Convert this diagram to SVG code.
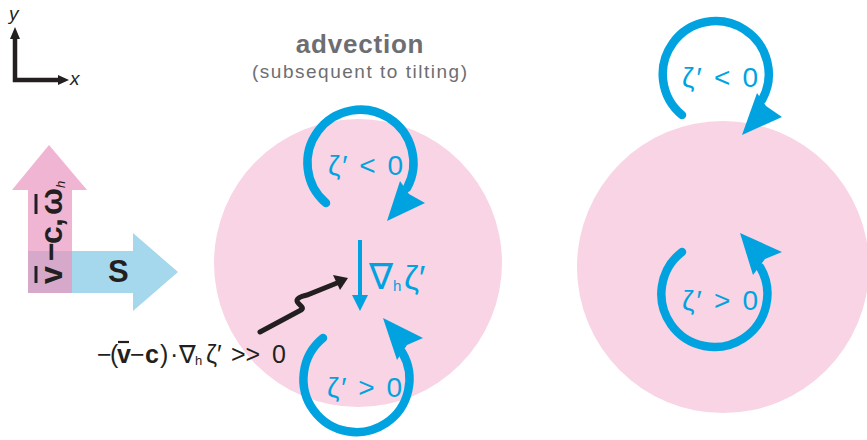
<svg xmlns="http://www.w3.org/2000/svg" width="867" height="440" viewBox="0 0 867 440">
<style>
.disk{fill:#f8d4e5}
.ring{fill:none;stroke:#00a3df;stroke-width:8.5;stroke-linecap:round}
.head{fill:#00a3df}
.bt{fill:#00a3df;font-family:"Liberation Sans","DejaVu Sans",sans-serif;font-size:28px}
.blk{fill:#231f20;font-family:"Liberation Sans","DejaVu Sans",sans-serif}
.ax{stroke:#231f20;stroke-width:4.5;fill:none}
.axh{fill:#231f20}
.grey{fill:#6d6e71;font-family:"Liberation Sans","DejaVu Sans",sans-serif}
</style>
<rect width="867" height="440" fill="#ffffff"/>

<g id="axes">
  <path class="ax" d="M15,36 V80 H60"/>
  <polygon class="axh" points="15,27 20,39 10,39"/>
  <polygon class="axh" points="69,80 58,85 58,75"/>
  <text class="blk" x="9" y="20" font-size="19" font-style="italic">y</text>
  <text class="blk" x="70" y="85" font-size="19" font-style="italic">x</text>
</g>

<g id="vectors">
  <polygon fill="#a5d8ec" points="28,251 133,251 133,233 178,272 133,311 133,293 28,293"/>
  <polygon fill="#f0b5d3" points="28,293 72,293 72,190 87,190 49,145 12,190 28,190"/>
  <rect x="28" y="251" width="44" height="42" fill="#d6a9cb"/>
  <text class="blk" x="108" y="282" font-size="31" font-weight="bold">S</text>
  <g transform="translate(62,285) rotate(-90)">
    <text class="blk" y="0" font-size="32" font-weight="bold"><tspan x="1">v</tspan><tspan x="24">−</tspan><tspan x="41">c</tspan><tspan x="58">,</tspan><tspan x="70">ω</tspan><tspan x="97" y="3" font-size="13" font-style="italic" font-weight="normal">h</tspan></text>
    <line x1="2" y1="-26" x2="19" y2="-26" stroke="#231f20" stroke-width="3"/>
    <line x1="71" y1="-26" x2="91" y2="-26" stroke="#231f20" stroke-width="3"/>
  </g>
</g>

<g id="title">
  <text class="grey" x="360" y="53" font-size="26" font-weight="bold" text-anchor="middle" letter-spacing="0.8">advection</text>
  <text class="grey" x="252" y="78" font-size="19" textLength="215" lengthAdjust="spacing">(subsequent to tilting)</text>
</g>

<g id="disk-middle">
  <circle class="disk" cx="358" cy="263" r="144"/>
</g>
<g id="disk-right">
  <circle class="disk" cx="723" cy="267" r="146"/>
</g>

<g id="vortex-mid-top">
  <path class="ring" d="M326,203 A53,53 0 1 1 407,188"/>
  <polygon class="head" points="387,221 400,181 409,194 425,203"/>
  <text class="bt" x="328" y="175" textLength="75" lengthAdjust="spacing">ζ′ &lt; 0</text>
</g>

<g id="vortex-mid-bottom">
  <path class="ring" d="M323,338 A53,53 0 1 0 402,352"/>
  <polygon class="head" points="383,318 423,338 407,345 397,360"/>
  <text class="bt" x="327" y="397" textLength="75" lengthAdjust="spacing">ζ′ &gt; 0</text>
</g>

<g id="gradient">
  <line x1="360" y1="240" x2="360" y2="298" stroke="#00a3df" stroke-width="4"/>
  <polygon class="head" points="352,295 368,295 360,311"/>
  <text class="bt" y="289"><tspan x="369" font-size="36">∇</tspan><tspan x="393" y="291" font-size="15">h</tspan><tspan x="404" y="289" font-size="34">ζ′</tspan></text>
</g>

<g id="vortex-right-top">
  <path class="ring" d="M682,115 A53,53 0 1 1 762,100"/>
  <polygon class="head" points="742,135 757,93 766,106 782,117"/>
  <text class="bt" x="682" y="87" textLength="76" lengthAdjust="spacing">ζ′ &lt; 0</text>
</g>

<g id="vortex-right-bottom">
  <path class="ring" d="M682,252 A53,53 0 1 0 760,267"/>
  <polygon class="head" points="740,233 782,252 765,259 753,275"/>
  <text class="bt" x="682" y="310" textLength="76" lengthAdjust="spacing">ζ′ &gt; 0</text>
</g>

<g id="connectors">
  <path d="M260,332 L301,310 C306,307 296,304 297,300 C298,297 303,296 307,295 L337,283" fill="none" stroke="#231f20" stroke-width="5" stroke-linecap="round"/>
  <polygon class="axh" points="348,278 333,275 340,290"/>
</g>

<g id="advection-label">
  <text class="blk" y="363" font-size="25"><tspan x="97">−</tspan><tspan x="110">(</tspan><tspan x="117" font-weight="bold">v</tspan><tspan x="130">−</tspan><tspan x="145" font-weight="bold">c</tspan><tspan x="160">)</tspan><tspan x="170">·</tspan><tspan x="179">∇</tspan><tspan x="195" y="365" font-size="13">h</tspan><tspan x="206" y="363">ζ′</tspan><tspan x="231">&gt;&gt;</tspan><tspan x="272">0</tspan></text>
  <line x1="118" y1="342" x2="129" y2="342" stroke="#231f20" stroke-width="2.2"/>
</g>
</svg>
